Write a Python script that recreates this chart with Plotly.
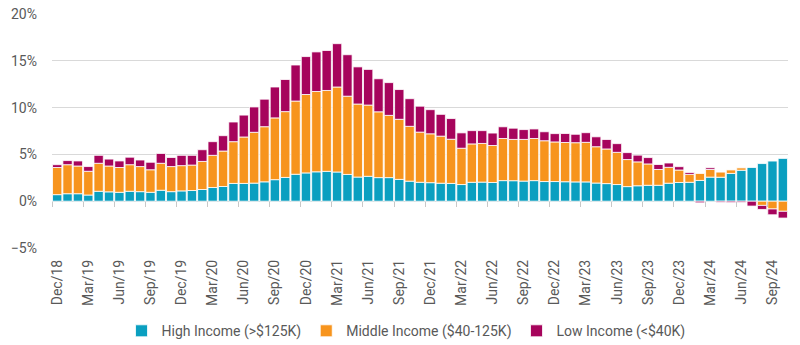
import pandas as pd
import plotly.graph_objects as go

# Monthly categories, Dec 2018 through Oct 2024
months = pd.date_range("2018-12-01", periods=71, freq="MS").strftime("%b/%y").tolist()

# Contribution to growth by income group (percentage points)
high_income = [
    0.70, 0.80, 0.80, 0.66, 1.06, 1.00, 0.95, 1.06, 1.02, 0.95, 1.17, 1.02,
    1.10, 1.14, 1.25, 1.46, 1.57, 1.90, 1.90, 1.93, 2.07, 2.30, 2.54, 2.88,
    3.02, 3.14, 3.19, 3.12, 2.86, 2.58, 2.66, 2.52, 2.52, 2.33, 2.14, 2.02,
    1.98, 1.92, 1.90, 1.78, 2.02, 2.04, 2.00, 2.20, 2.19, 2.15, 2.20, 2.10,
    2.10, 2.08, 2.06, 2.06, 1.94, 1.88, 1.78, 1.56, 1.65, 1.70, 1.70, 1.92,
    2.00, 2.02, 2.22, 2.57, 2.56, 2.97, 3.31, 3.64, 4.02, 4.29, 4.57,
]
middle_income = [
    2.90, 3.10, 2.96, 2.54, 2.99, 2.76, 2.65, 2.84, 2.68, 2.41, 2.88, 2.68,
    2.70, 2.72, 3.00, 3.44, 3.79, 4.46, 4.96, 5.43, 5.89, 6.60, 7.03, 7.82,
    8.38, 8.58, 8.64, 9.08, 8.36, 7.80, 7.61, 7.03, 6.65, 6.42, 5.86, 5.36,
    5.22, 5.03, 4.72, 3.88, 4.10, 4.13, 3.95, 4.50, 4.41, 4.45, 4.50, 4.36,
    4.23, 4.19, 4.19, 4.23, 3.88, 3.70, 3.44, 2.89, 2.55, 2.28, 1.69, 1.70,
    1.33, 0.85, 0.74, 0.82, 0.55, 0.37, 0.25, 0.00, -0.45, -0.83, -1.08,
]
low_income = [
    0.30, 0.44, 0.54, 0.50, 0.85, 0.74, 0.70, 0.80, 0.70, 0.80, 1.05, 0.97,
    1.10, 1.04, 1.25, 1.46, 1.64, 2.10, 2.34, 2.71, 2.94, 3.30, 3.43, 3.85,
    4.05, 4.23, 4.27, 4.63, 4.43, 3.97, 3.81, 3.53, 3.50, 3.18, 2.95, 2.77,
    2.58, 2.33, 2.21, 1.64, 1.42, 1.37, 1.33, 1.25, 1.20, 1.05, 1.02, 0.96,
    0.89, 0.96, 0.90, 1.03, 1.06, 1.01, 0.93, 0.74, 0.72, 0.68, 0.53, 0.46,
    0.36, 0.20, -0.17, 0.18, -0.12, -0.15, -0.13, -0.52, -0.43, -0.62, -0.72,
]

series = [
    ("High Income (>$125K)", high_income, "#0a9fc0"),
    ("Middle Income ($40-125K)", middle_income, "#f7941d"),
    ("Low Income (<$40K)", low_income, "#a6045c"),
]

FONT = "Roboto"
TEXT = "#595959"
GRID = "#d9d9d9"

fig = go.Figure()
for name, vals, color in series:
    fig.add_trace(go.Bar(
        x=months, y=vals, name=name,
        marker=dict(color=color, line=dict(color="white", width=0.8)),
    ))

label_months = months[::3]
n = len(months)

# empty helper trace so the overlaid tick axis is rendered
fig.add_trace(go.Scatter(
    x=[None], y=[None], xaxis="x2", yaxis="y",
    mode="markers", showlegend=False, hoverinfo="skip",
))

fig.update_layout(
    width=800, height=345,
    margin=dict(l=52, r=12, t=14, b=97, autoexpand=False),
    barmode="relative",
    bargap=0.1,
    plot_bgcolor="white",
    paper_bgcolor="white",
    font=dict(family=FONT, size=14, color=TEXT),
    showlegend=True,
    legend=dict(
        orientation="h", xref="paper", x=0.481, xanchor="center",
        yref="container", y=0.04, yanchor="middle",
        font=dict(family=FONT, size=14, color=TEXT),
        itemwidth=30, traceorder="normal",
    ),
    xaxis=dict(
        type="category", categoryorder="array", categoryarray=months,
        tickmode="array", tickvals=label_months, ticktext=label_months,
        tickangle=-90, ticks="", showgrid=False, showline=False, zeroline=False,
        ticklabelstandoff=8, automargin=False,
        tickfont=dict(family=FONT, size=14, color=TEXT),
        range=[-0.5, n - 0.5],
    ),
    # tick marks hanging from the zero line at quarter boundaries
    xaxis2=dict(
        overlaying="x", anchor="free", position=0.2, side="bottom",
        type="linear", range=[-0.5, n - 0.5],
        tickmode="array", tickvals=[i - 0.5 for i in range(0, n, 3)],
        ticks="outside", ticklen=5, tickwidth=1, tickcolor="#c8c8c8",
        showticklabels=False, showgrid=False, showline=False, zeroline=False,
        automargin=False,
    ),
    yaxis=dict(
        range=[-5, 20], dtick=5, ticksuffix="%",
        showgrid=True, gridcolor=GRID, gridwidth=1,
        zeroline=True, zerolinecolor=GRID, zerolinewidth=1,
        showline=False, ticks="", ticklabelstandoff=14, automargin=False,
        tickfont=dict(family=FONT, size=14, color=TEXT),
    ),
)

fig.write_html("out.html")
